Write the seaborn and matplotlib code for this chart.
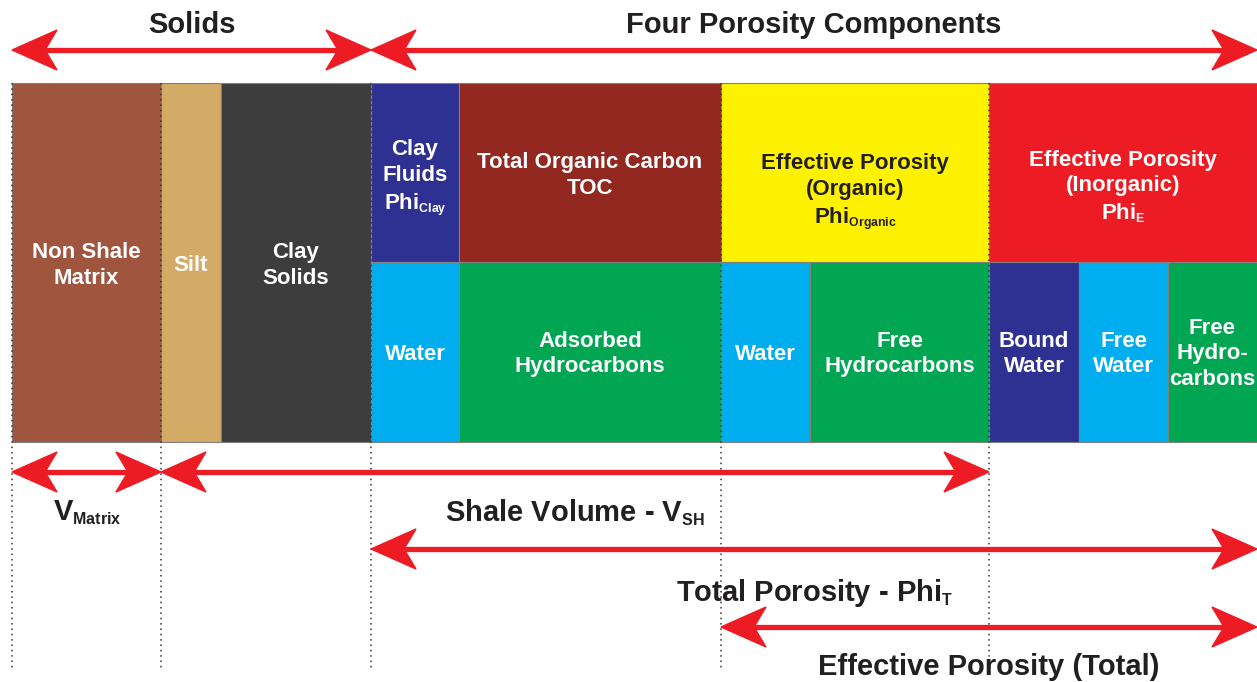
import matplotlib
matplotlib.use("Agg")
import matplotlib.pyplot as plt
import matplotlib._mathtext as mathtext_internals
from matplotlib.patches import Polygon
import numpy as np
import pandas as pd
import seaborn as sns

# solids, spanning the full height of the column
solid_labels = ["Non Shale\nMatrix", "Silt", "Clay\nSolids"]
solid_widths = [149, 60, 150]
solid_colors = ["#A0553E", "#D3AA66", "#3D3D3D"]

# porosity, upper row
upper_labels = [
    "Clay\nFluids\nPhi$_{\\rm Clay}$",
    "Total Organic Carbon\nTOC",
    "Effective Porosity\n(Organic)\nPhi$_{\\rm Organic}$",
    "Effective Porosity\n(Inorganic)\nPhi$_{\\rm E}$",
]
upper_widths = [88, 262, 268, 268]
upper_colors = ["#2E3192", "#92281F", "#FFF200", "#ED1C24"]
upper_text = ["white", "white", "#231F20", "white"]

# porosity, lower row
lower_labels = ["Water", "Adsorbed\nHydrocarbons", "Water", "Free\nHydrocarbons",
                "Bound\nWater", "Free\nWater", "Free\nHydro-\ncarbons"]
lower_widths = [88, 262, 89, 179, 90, 89, 89]
lower_colors = ["#00AEEF", "#00A651", "#00AEEF", "#00A651",
                "#2E3192", "#00AEEF", "#00A651"]

arrow_labels = ["Solids", "Four Porosity Components", "V$_{\\rm Matrix}$",
                "Shale Volume - V$_{\\rm SH}$", "Total Porosity - Phi$_{\\rm T}$",
                "Effective Porosity (Total)"]

# layout nudges for upper row text
upper_dy = [5, 2, 19, 14]

sns.set_theme(style="white")
plt.rcParams["font.family"] = ["Liberation Sans", "DejaVu Sans"]
plt.rcParams["mathtext.fontset"] = "custom"
plt.rcParams["mathtext.rm"] = "Liberation Sans:bold"
plt.rcParams["mathtext.bf"] = "Liberation Sans:bold"
plt.rcParams["mathtext.it"] = "Liberation Sans:bold"
# smaller subscripts, as in the original artwork
mathtext_internals.SHRINK_FACTOR = 0.55

fig = plt.figure(figsize=(12.57, 6.82), dpi=100)
ax = fig.add_axes([0, 0, 1, 1])
ax.set_xlim(0, 1257)
ax.set_ylim(682, 0)
ax.axis("off")

x0, top, mid, bot = 12, 83, 262, 442
edge = "#808080"

solids = pd.DataFrame({"label": solid_labels, "w": solid_widths, "c": solid_colors})
solids["left"] = x0 + np.concatenate([[0], np.cumsum(solid_widths)[:-1]])
p0 = x0 + sum(solid_widths)
upper = pd.DataFrame({"label": upper_labels, "w": upper_widths, "c": upper_colors,
                      "tc": upper_text, "dy": upper_dy})
upper["left"] = p0 + np.concatenate([[0], np.cumsum(upper_widths)[:-1]])
lower = pd.DataFrame({"label": lower_labels, "w": lower_widths, "c": lower_colors})
lower["left"] = p0 + np.concatenate([[0], np.cumsum(lower_widths)[:-1]])

ax.bar(solids["left"], bot - top, width=solids["w"], bottom=top, align="edge",
       color=solids["c"], edgecolor=edge, lw=0.8)
ax.bar(upper["left"], mid - top, width=upper["w"], bottom=top, align="edge",
       color=upper["c"], edgecolor=edge, lw=0.8)
ax.bar(lower["left"], bot - mid, width=lower["w"], bottom=mid, align="edge",
       color=lower["c"], edgecolor=edge, lw=0.8)

tkw = dict(ha="center", va="center", fontsize=16, fontweight="bold",
           linespacing=1.3)
for _, r in solids.iterrows():
    ax.text(r.left + r.w / 2, (top + bot) / 2 + 3, r.label, color="white", **tkw)
for _, r in upper.iterrows():
    ax.text(r.left + r.w / 2, (top + mid) / 2 + 1 + r.dy, r.label, color=r.tc, **tkw)
for _, r in lower.iterrows():
    ax.text(r.left + r.w / 2, (mid + bot) / 2 + 2, r.label, color="white", **tkw)

# dotted guides
xe = 1257
b_silt = solids["left"][1]
b_org = upper["left"][2]
b_inorg = upper["left"][3]
for xv in [x0, b_silt, p0, b_org, b_inorg]:
    ax.plot([xv, xv], [top, 668], ls=(0, (1, 2.5)), color="#333333", lw=1.1,
            zorder=3)

red = "#ED1C24"


def arrow(xa, xb, y, left=True, right=True):
    hl, hw, notch = 45, 20, 12
    a = xa + (hl - notch if left else 0)
    b = xb - (hl - notch if right else 0)
    ax.plot([a, b], [y, y], color=red, lw=3.8, solid_capstyle="butt", zorder=4)
    if left:
        ax.add_patch(Polygon([[xa, y], [xa + hl, y - hw], [xa + hl - notch, y],
                              [xa + hl, y + hw]], closed=True, color=red, zorder=5))
    if right:
        ax.add_patch(Polygon([[xb, y], [xb - hl, y - hw], [xb - hl + notch, y],
                              [xb - hl, y + hw]], closed=True, color=red, zorder=5))


arrow(x0, p0, 50)
arrow(p0, xe, 50)
arrow(x0, b_silt, 472)
arrow(b_silt, b_inorg, 472)
arrow(p0, xe, 549)
arrow(b_org, xe, 627)

hkw = dict(ha="center", va="center", fontsize=21, fontweight="bold",
           color="#231F20")
ax.text((x0 + p0) / 2, 25, arrow_labels[0], **hkw)
ax.text((p0 + xe) / 2, 25, arrow_labels[1], **hkw)
ax.text((x0 + b_silt) / 2 + 1, 513, arrow_labels[2], **hkw)
ax.text(575, 513, arrow_labels[3], **hkw)
ax.text(815, 593, arrow_labels[4], **hkw)
ax.text(989, 667, arrow_labels[5], **hkw)

fig.savefig("out.png", dpi=100)
